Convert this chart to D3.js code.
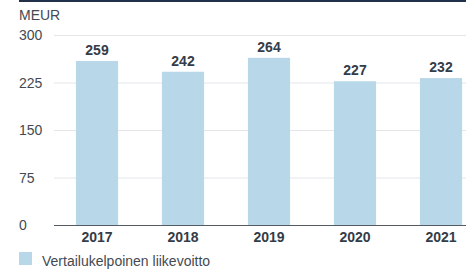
<!DOCTYPE html>
<html>
<head>
<meta charset="utf-8">
<script src="https://cdn.jsdelivr.net/npm/d3@7"></script>
<style>
  body { margin: 0; background: #fff; }
  text { font-family: "Liberation Sans", Arial, sans-serif; }
</style>
</head>
<body>
<script>
var years = ['2017', '2018', '2019', '2020', '2021'];
var values = [259, 242, 264, 227, 232];
var ticks = [0, 75, 150, 225, 300];
var unit = 'MEUR';
var seriesName = 'Vertailukelpoinen liikevoitto';

var width = 466, height = 270;
var barColor = '#b8d8ea';

var svg = d3.select('body').append('svg')
    .attr('width', width)
    .attr('height', height);

// top rule
svg.append('rect')
    .attr('x', 19).attr('y', 0)
    .attr('width', width - 19).attr('height', 2)
    .attr('fill', '#22304a');

var x = d3.scaleBand()
    .domain(years)
    .range([54, 484])
    .paddingInner(0.51)
    .paddingOuter(0.255);

var y = d3.scaleLinear()
    .domain([0, 300])
    .range([225, 35]);

// grid lines
svg.selectAll('line.grid')
    .data(ticks.slice(1))
    .enter().append('line')
    .attr('class', 'grid')
    .attr('x1', 54).attr('x2', width)
    .attr('y1', d => y(d) + 0.5).attr('y2', d => y(d) + 0.5)
    .attr('stroke', '#e4e6e8')
    .attr('stroke-width', 1);

svg.selectAll('text.ytick')
    .data(ticks)
    .enter().append('text')
    .attr('class', 'ytick')
    .attr('x', 19)
    .attr('y', d => y(d) + 5)
    .attr('font-size', 14)
    .attr('fill', '#444a52')
    .text(d => d);

svg.append('text')
    .attr('x', 19).attr('y', 20)
    .attr('font-size', 14)
    .attr('fill', '#444a52')
    .text(unit);

svg.selectAll('rect.bar')
    .data(values)
    .enter().append('rect')
    .attr('class', 'bar')
    .attr('x', (d, i) => x(years[i]))
    .attr('width', x.bandwidth())
    .attr('y', d => y(d))
    .attr('height', d => y(0) - y(d))
    .attr('fill', barColor);

svg.selectAll('text.val')
    .data(values)
    .enter().append('text')
    .attr('class', 'val')
    .attr('x', (d, i) => x(years[i]) + x.bandwidth() / 2)
    .attr('y', d => y(d) - 6)
    .attr('text-anchor', 'middle')
    .attr('font-size', 14)
    .attr('font-weight', 'bold')
    .attr('fill', '#343c47')
    .text(d => d);

// baseline
svg.append('line')
    .attr('x1', 54).attr('x2', width)
    .attr('y1', y(0) + 0.5).attr('y2', y(0) + 0.5)
    .attr('stroke', '#555b63')
    .attr('stroke-width', 1);

svg.selectAll('text.xlab')
    .data(years)
    .enter().append('text')
    .attr('class', 'xlab')
    .attr('x', d => x(d) + x.bandwidth() / 2)
    .attr('y', 242)
    .attr('text-anchor', 'middle')
    .attr('font-size', 14)
    .attr('font-weight', 'bold')
    .attr('fill', '#343c47')
    .text(d => d);

// legend
svg.append('rect')
    .attr('x', 19).attr('y', 252)
    .attr('width', 13).attr('height', 13)
    .attr('fill', barColor);

svg.append('text')
    .attr('x', 42).attr('y', 266)
    .attr('font-size', 14)
    .attr('fill', '#444a52')
    .text(seriesName);
</script>
</body>
</html>
